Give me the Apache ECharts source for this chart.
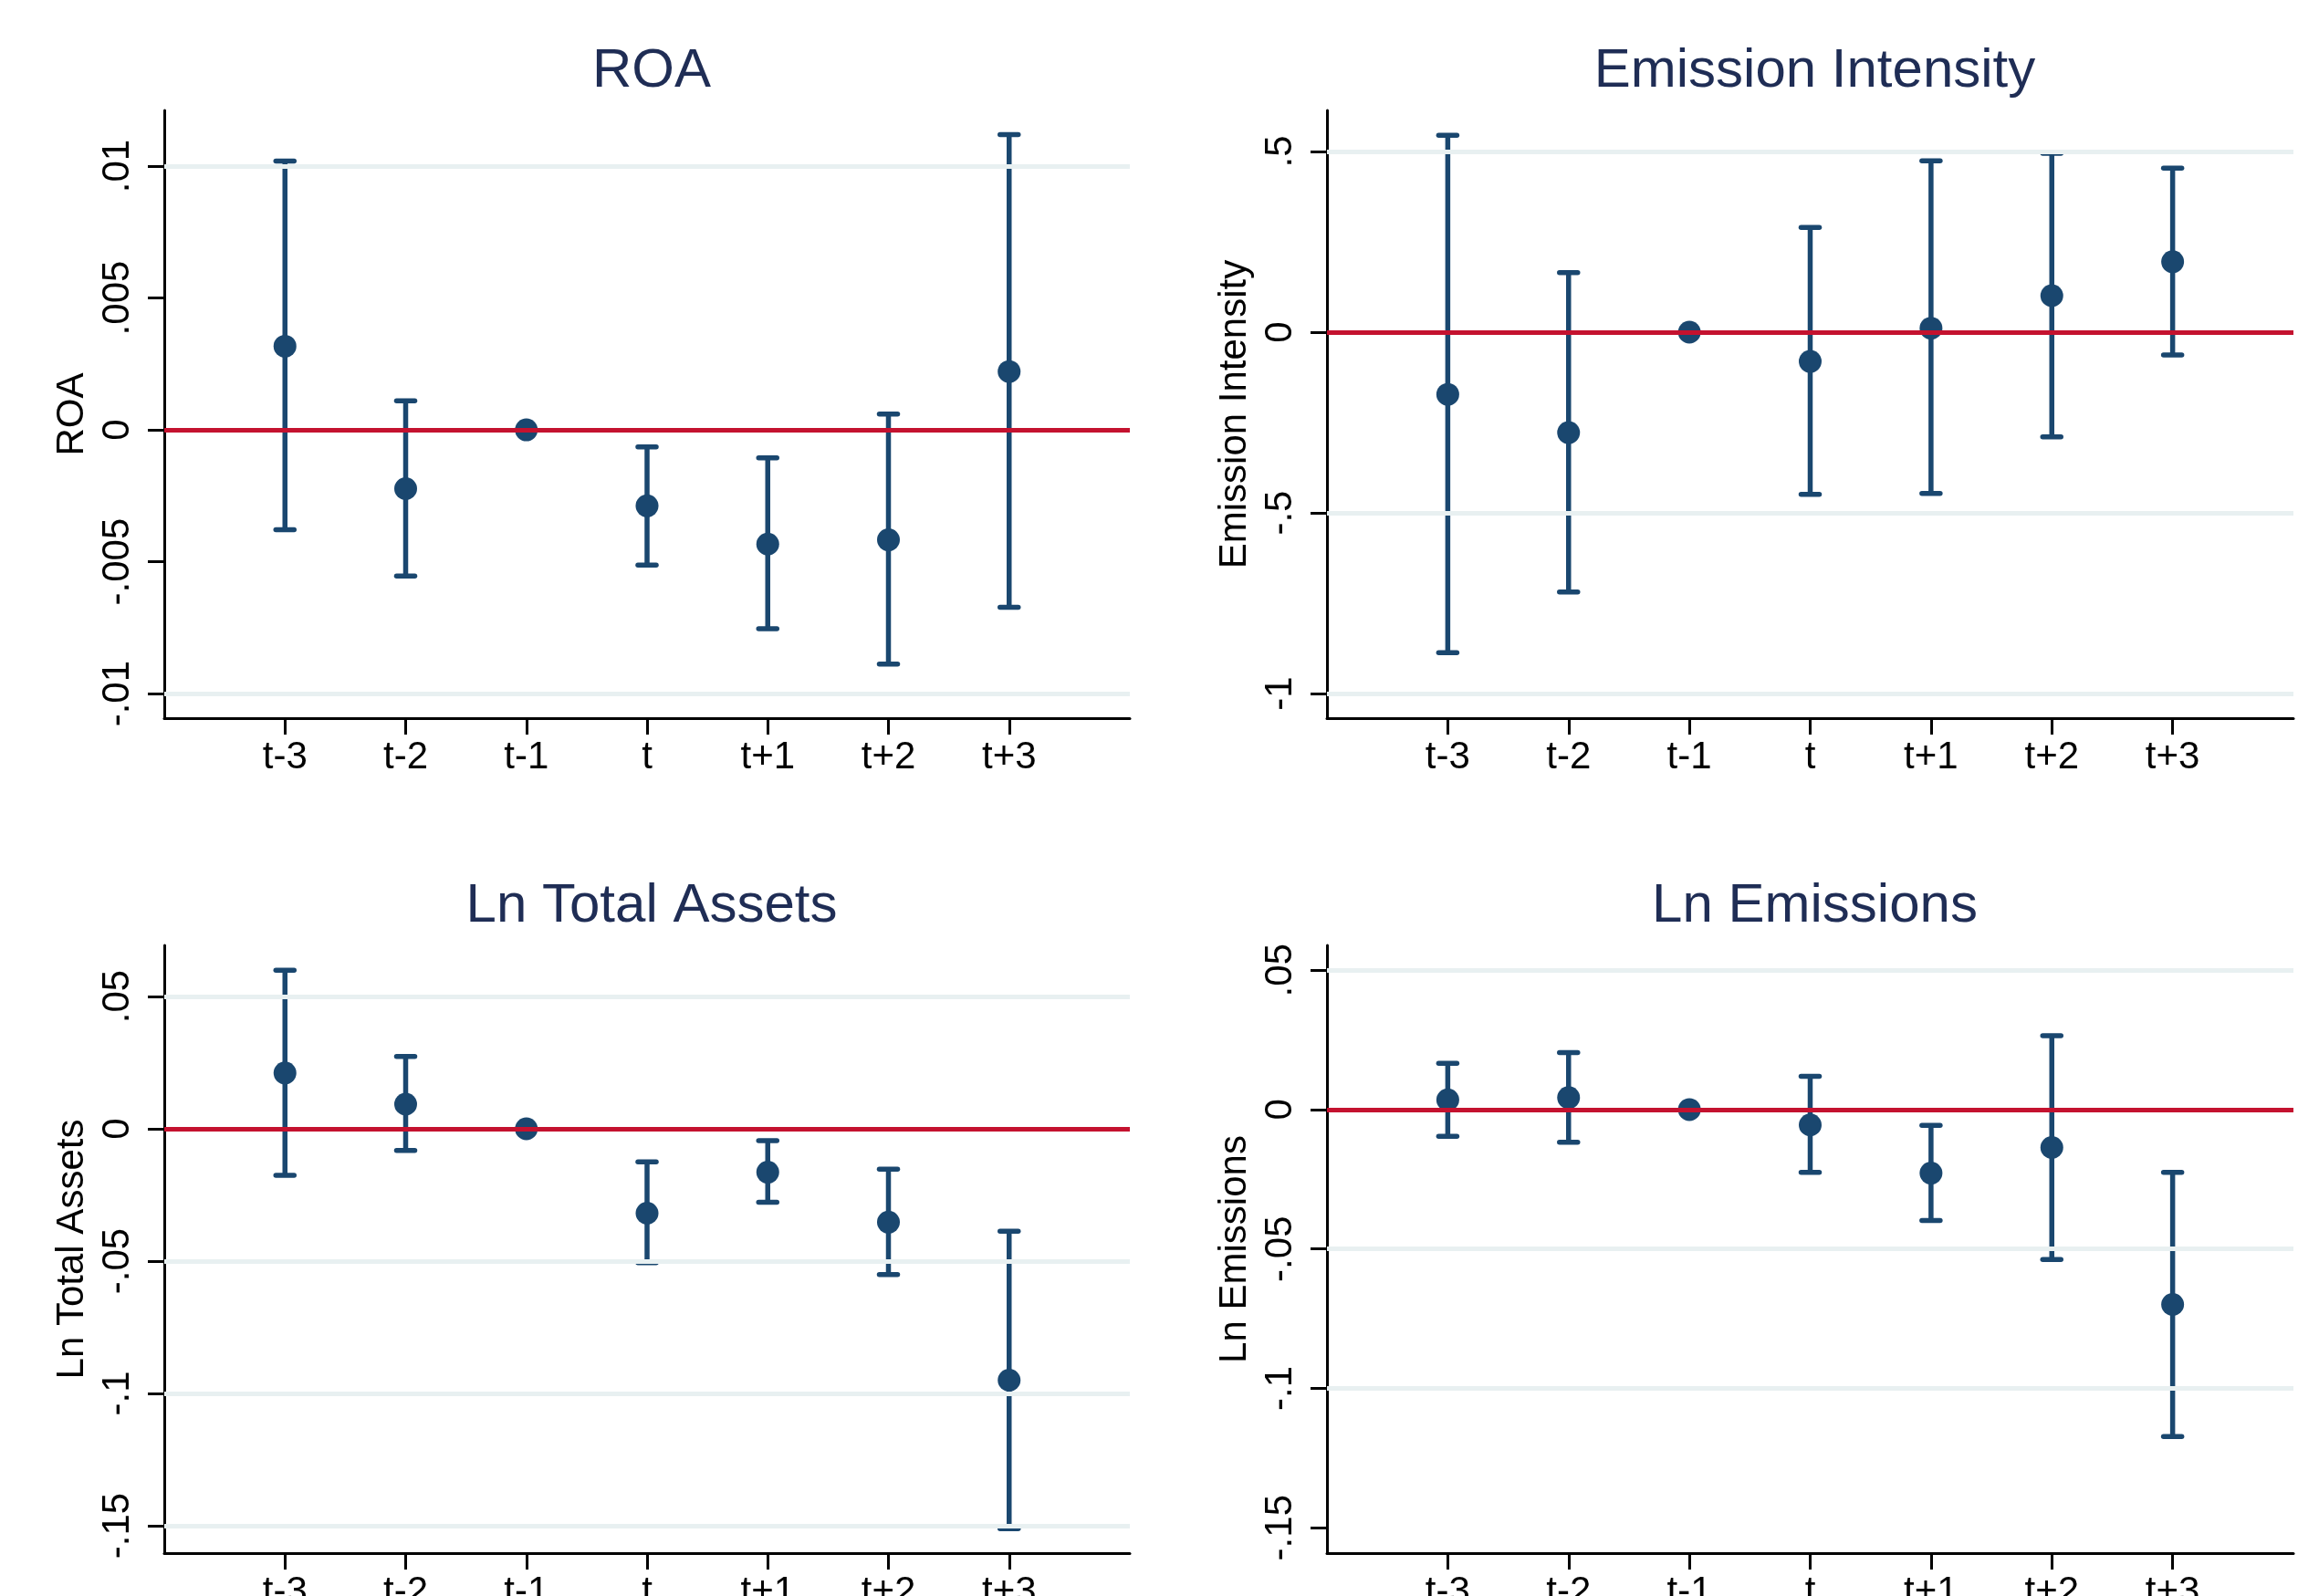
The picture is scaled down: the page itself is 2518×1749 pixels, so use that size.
<!DOCTYPE html>
<html>
<head>
<meta charset="utf-8">
<script src="https://cdn.jsdelivr.net/npm/echarts@6/dist/echarts.min.js"></script>
<style>
html,body{margin:0;padding:0;background:#fff;overflow:hidden;}
#chart{width:2518px;height:1749px;}
</style>
</head>
<body>
<div id="chart"></div>
<script>
// ---- data ----
const categories = ['t-3', 't-2', 't-1', 't', 't+1', 't+2', 't+3'];

const roaCoef = [0.00317, -0.00223, 0, -0.00288, -0.00433, -0.00417, 0.00221];
const roaLow  = [-0.00379, -0.00554, null, -0.00513, -0.00754, -0.00888, -0.00673];
const roaHigh = [0.01019, 0.00110, null, -0.00065, -0.00106, 0.00060, 0.01119];

const eiCoef = [-0.172, -0.278, 0, -0.081, 0.011, 0.101, 0.195];
const eiLow  = [-0.887, -0.719, null, -0.449, -0.446, -0.290, -0.063];
const eiHigh = [0.545, 0.165, null, 0.290, 0.474, 0.495, 0.454];

const ltaCoef = [0.0211, 0.0093, 0, -0.0319, -0.0164, -0.0353, -0.0950];
const ltaLow  = [-0.0176, -0.0082, null, -0.0506, -0.0278, -0.0551, -0.1511];
const ltaHigh = [0.0599, 0.0273, null, -0.0125, -0.0045, -0.0153, -0.0387];

const leCoef = [0.0035, 0.0043, 0, -0.0055, -0.0228, -0.0136, -0.0699];
const leLow  = [-0.0096, -0.0117, null, -0.0225, -0.0398, -0.0538, -0.1173];
const leHigh = [0.0166, 0.0204, null, 0.0119, -0.0057, 0.0265, -0.0225];

const roaTicks = [-0.01, -0.005, 0, 0.005, 0.01];
const roaTickLabels = ['-.01', '-.005', '0', '.005', '.01'];
const roaGridlines = [-0.01, -0.005, 0.005, 0.01];
const eiTicks = [-1, -0.5, 0, 0.5];
const eiTickLabels = ['-1', '-.5', '0', '.5'];
const eiGridlines = [-1, -0.5, 0.5];
const ltaTicks = [-0.15, -0.1, -0.05, 0, 0.05];
const ltaTickLabels = ['-.15', '-.1', '-.05', '0', '.05'];
const ltaGridlines = [-0.15, -0.1, -0.05, 0.05];
const leTicks = [-0.15, -0.1, -0.05, 0, 0.05];
const leTickLabels = ['-.15', '-.1', '-.05', '0', '.05'];
const leGridlines = [-0.1, -0.05, 0.05];

const titles = ['ROA', 'Emission Intensity', 'Ln Total Assets', 'Ln Emissions'];

// ---- styling / layout ----
const FONT = '"Liberation Sans", Arial, sans-serif';
const NAVY = '#1a476f';
const RED = '#c4122f';
const GRID_C = '#e8f0f1';
const TITLE_C = '#1f2d55';

const panels = [
  {title: titles[0], coef: roaCoef, low: roaLow, high: roaHigh, ticks: roaTicks, labels: roaTickLabels, gl: roaGridlines,
   min: -0.01093, max: 0.01211, grid: {left: 180, top: 121, width: 1058, height: 666}},
  {title: titles[1], coef: eiCoef, low: eiLow, high: eiHigh, ticks: eiTicks, labels: eiTickLabels, gl: eiGridlines,
   min: -1.068, max: 0.6136, grid: {left: 1454, top: 121, width: 1059, height: 666}},
  {title: titles[2], coef: ltaCoef, low: ltaLow, high: ltaHigh, ticks: ltaTicks, labels: ltaTickLabels, gl: ltaGridlines,
   min: -0.16034, max: 0.0693, grid: {left: 180, top: 1036, width: 1058, height: 666}},
  {title: titles[3], coef: leCoef, low: leLow, high: leHigh, ticks: leTicks, labels: leTickLabels, gl: leGridlines,
   min: -0.1591, max: 0.0589, grid: {left: 1454, top: 1036, width: 1059, height: 666}}
];

const catPos = categories.map((c, i) => i + 1);

const option = {
  animation: false,
  backgroundColor: '#ffffff',
  title: [], grid: [], xAxis: [], yAxis: [], series: []
};

panels.forEach((p, k) => {
  option.title.push({
    text: p.title,
    left: p.grid.left + p.grid.width / 2,
    top: p.grid.top - 78,
    textAlign: 'center',
    textStyle: {fontFamily: FONT, fontSize: 60, fontWeight: 'normal', color: TITLE_C}
  });
  option.grid.push(Object.assign({containLabel: false, outerBoundsMode: 'none'}, p.grid));
  option.xAxis.push({
    type: 'value', gridIndex: k, min: 0, max: 8, interval: 1,
    splitLine: {show: false},
    axisLine: {show: true, onZero: false, lineStyle: {color: '#000', width: 3}},
    axisTick: {show: true, length: 18, lineStyle: {color: '#000', width: 3}, customValues: catPos},
    axisLabel: {
      show: true, margin: 22, customValues: catPos,
      fontFamily: FONT, fontSize: 42, color: '#000',
      formatter: v => categories[Math.round(v) - 1] || ''
    }
  });
  option.yAxis.push({
    type: 'value', gridIndex: k, min: p.min, max: p.max,
    name: p.title, nameLocation: 'middle', nameGap: 80, nameRotate: 90,
    nameTextStyle: {fontFamily: FONT, fontSize: 42, color: '#000'},
    splitLine: {show: false},
    axisLine: {show: true, onZero: false, lineStyle: {color: '#000', width: 3}},
    axisTick: {show: true, length: 18, lineStyle: {color: '#000', width: 3}, customValues: p.ticks},
    axisLabel: {
      show: true, rotate: 90, margin: 30, customValues: p.ticks,
      fontFamily: FONT, fontSize: 42, color: '#000',
      formatter: v => {
        const i = p.ticks.findIndex(t => Math.abs(t - v) < 1e-9);
        return i >= 0 ? p.labels[i] : '';
      }
    }
  });
  // gridlines
  option.series.push({
    type: 'line', xAxisIndex: k, yAxisIndex: k, data: [], z: 1, silent: true,
    markLine: {
      silent: true, symbol: 'none', animation: false,
      label: {show: false},
      lineStyle: {color: GRID_C, width: 5, type: 'solid'},
      data: p.gl.map(t => ({yAxis: t}))
    }
  });
  // zero reference line
  option.series.push({
    type: 'line', xAxisIndex: k, yAxisIndex: k, data: [], z: 2, silent: true,
    markLine: {
      silent: true, symbol: 'none', animation: false,
      label: {show: false},
      lineStyle: {color: RED, width: 5, type: 'solid'},
      data: [{yAxis: 0}]
    }
  });
  // error bars
  const ciData = [];
  categories.forEach((c, i) => {
    if (p.low[i] !== null && p.high[i] !== null) ciData.push([i + 1, p.low[i], p.high[i]]);
  });
  option.series.push({
    type: 'custom', xAxisIndex: k, yAxisIndex: k, z: 3, silent: true,
    data: ciData,
    renderItem: (params, api) => {
      const x = api.value(0);
      const lo = api.coord([x, api.value(1)]);
      const hi = api.coord([x, api.value(2)]);
      const cap = 10;
      const st = {stroke: NAVY, lineWidth: 5.5, lineCap: 'round'};
      return {
        type: 'group',
        children: [
          {type: 'line', shape: {x1: lo[0], y1: lo[1], x2: hi[0], y2: hi[1]}, style: {stroke: NAVY, lineWidth: 5.5}},
          {type: 'line', shape: {x1: hi[0] - cap, y1: hi[1], x2: hi[0] + cap, y2: hi[1]}, style: st},
          {type: 'line', shape: {x1: lo[0] - cap, y1: lo[1], x2: lo[0] + cap, y2: lo[1]}, style: st}
        ]
      };
    }
  });
  // point estimates
  option.series.push({
    type: 'scatter', xAxisIndex: k, yAxisIndex: k, z: 4, silent: true,
    symbol: 'circle', symbolSize: 25,
    itemStyle: {color: NAVY, opacity: 1},
    data: p.coef.map((v, i) => [i + 1, v])
  });
});

const chart = echarts.init(document.getElementById('chart'), null, {renderer: 'canvas'});
chart.setOption(option);
</script>
</body>
</html>
